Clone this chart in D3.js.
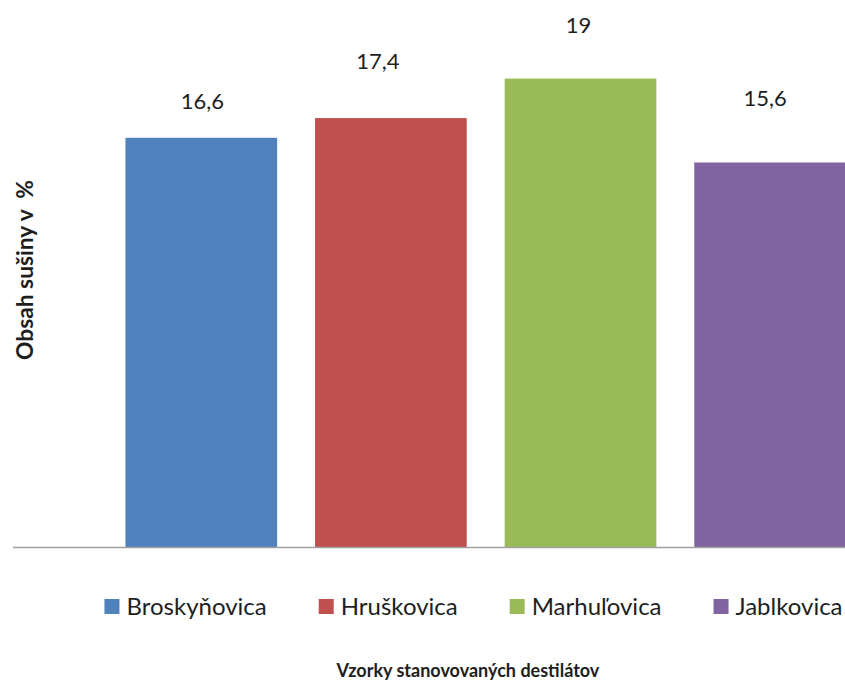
<!DOCTYPE html>
<html>
<head>
<meta charset="utf-8">
<script src="https://cdn.jsdelivr.net/npm/d3@7"></script>
<style>
  html, body { margin: 0; padding: 0; background: #fff; }
  svg { display: block; }
  text { font-family: Lato, "Open Sans", sans-serif; fill: #1e1e1e; }
</style>
</head>
<body>
<svg id="chart" width="845" height="682"></svg>
<script>
// Dry matter content of the distillate samples (%)
const categories = ["Broskyňovica", "Hruškovica", "Marhuľovica", "Jablkovica"];
const values = [16.6, 17.4, 19, 15.6];
const valueLabels = ["16,6", "17,4", "19", "15,6"];
const colors = ["#4F81BD", "#C0504D", "#9BBB59", "#8064A2"];

// hand-placed label nudges (px): lift above the bar top, horizontal shift
const labelLift = [29, 49, 46, 56];
const labelShift = [1, -13, -2, -5];

const svg = d3.select("#chart");
const W = 845, H = 682;

const baseY = 547.5;
const y = d3.scaleLinear().domain([0, 20]).range([baseY, baseY - 493.6]);
const x = d3.scaleBand()
  .domain(categories)
  .range([106.5, 864.9])
  .paddingInner(0.2)
  .paddingOuter(0.1);

// bars
svg.append("g").selectAll("rect")
  .data(categories)
  .join("rect")
  .attr("x", d => x(d))
  .attr("y", (d, i) => y(values[i]))
  .attr("width", x.bandwidth())
  .attr("height", (d, i) => baseY - y(values[i]))
  .attr("fill", (d, i) => colors[i]);

// category axis line
svg.append("line")
  .attr("x1", 13).attr("x2", W)
  .attr("y1", baseY).attr("y2", baseY)
  .attr("stroke", "#a0a0a0")
  .attr("stroke-width", 1.5);

// value labels
svg.append("g").selectAll("text")
  .data(categories)
  .join("text")
  .attr("x", (d, i) => x(d) + x.bandwidth() / 2 + labelShift[i])
  .attr("y", (d, i) => y(values[i]) - labelLift[i])
  .attr("text-anchor", "middle")
  .style("font-size", "22px")
  .text((d, i) => valueLabels[i]);

// legend, laid out from measured text widths and centred
const legend = svg.append("g");
const sq = 15, sqGap = 7, itemGap = 52, legendY = 615;
const items = categories.map((c, i) => {
  const g = legend.append("g");
  g.append("rect").attr("width", sq).attr("height", sq)
    .attr("y", legendY - 16).attr("fill", colors[i]);
  const t = g.append("text").attr("x", sq + sqGap).attr("y", legendY)
    .style("font-size", "24px").text(c);
  return { g, w: sq + sqGap + t.node().getComputedTextLength() };
});
const total = d3.sum(items, d => d.w) + itemGap * (items.length - 1);
let cx = 473.5 - total / 2;
items.forEach(it => {
  it.g.attr("transform", `translate(${cx},0)`);
  cx += it.w + itemGap;
});

// axis titles
svg.append("text")
  .attr("x", 468).attr("y", 677)
  .attr("text-anchor", "middle")
  .style("font-size", "18px").style("font-weight", "bold")
  .text("Vzorky stanovovaných destilátov");

svg.append("text")
  .attr("transform", "translate(33,270) rotate(-90)")
  .attr("text-anchor", "middle")
  .style("font-size", "22.8px").style("font-weight", "bold")
  .style("white-space", "pre")
  .attr("xml:space", "preserve")
  .text("Obsah sušiny v  %");
</script>
</body>
</html>
